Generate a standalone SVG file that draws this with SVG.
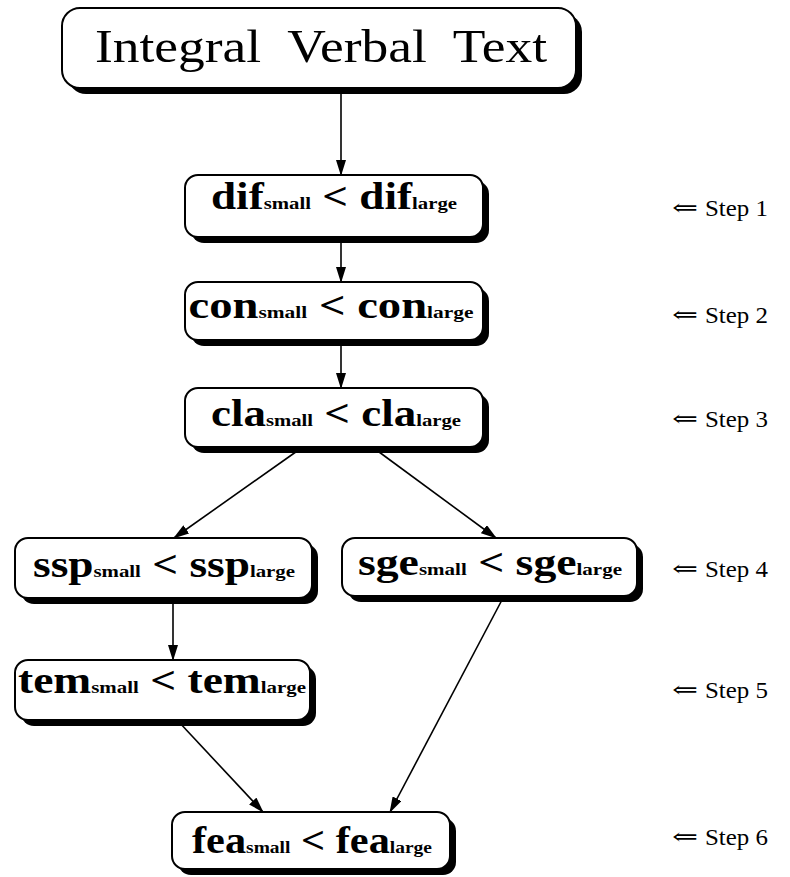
<svg xmlns="http://www.w3.org/2000/svg" width="790" height="877" viewBox="0 0 790 877">
<style>
.sh{fill:#000}
.bx{fill:#fff;stroke:#000;stroke-width:2}
.nt{font-family:"Liberation Serif","DejaVu Serif",serif;font-weight:bold;font-size:37px;fill:#000}
.sub{font-size:17px}
.st{font-family:"Liberation Serif","DejaVu Serif",serif;font-size:23px;fill:#000}
.ar{font-family:"DejaVu Serif","DejaVu Sans",serif;font-size:22px;fill:#000}
.ln{stroke:#000;stroke-width:1.6;fill:none;marker-end:url(#ah)}
</style>
<defs>
<marker id="ah" markerWidth="16" markerHeight="10" refX="15" refY="5" orient="auto" markerUnits="userSpaceOnUse">
<path d="M0,0 L16,5 L0,10 z" fill="#000"/>
</marker>
</defs>
<rect width="790" height="877" fill="#fff"/>
<g id="connectors">
<line class="ln" x1="341" y1="88" x2="341" y2="175"/>
<line class="ln" x1="341" y1="237" x2="341" y2="282"/>
<line class="ln" x1="341" y1="340" x2="341" y2="388"/>
<line class="ln" x1="300" y1="449" x2="174" y2="538"/>
<line class="ln" x1="375" y1="449" x2="496" y2="538"/>
<line class="ln" x1="173" y1="599" x2="173" y2="660"/>
<line class="ln" x1="178" y1="721" x2="263" y2="812"/>
<line class="ln" x1="503" y1="598" x2="390" y2="812"/>
</g>
<g id="top">
<rect class="sh" x="68" y="14" width="514" height="80" rx="18"/>
<rect class="bx" x="62" y="8" width="514" height="80" rx="18"/>
<text x="321" y="62" text-anchor="middle" textLength="452" lengthAdjust="spacingAndGlyphs" style="font-family:'Liberation Serif','DejaVu Serif',serif;font-size:47px" word-spacing="12">Integral Verbal Text</text>
</g>
<g id="dif">
<rect class="sh" x="191" y="181" width="298" height="62" rx="13"/>
<rect class="bx" x="185" y="175" width="298" height="62" rx="13"/>
<text class="nt" x="334" y="209" text-anchor="middle" textLength="246" lengthAdjust="spacingAndGlyphs">dif<tspan class="sub">small</tspan> &lt; dif<tspan class="sub">large</tspan></text>
</g>
<g id="con">
<rect class="sh" x="191" y="288" width="298" height="58" rx="13"/>
<rect class="bx" x="185" y="282" width="298" height="58" rx="13"/>
<text class="nt" x="331" y="318" text-anchor="middle" textLength="285" lengthAdjust="spacingAndGlyphs">con<tspan class="sub">small</tspan> &lt; con<tspan class="sub">large</tspan></text>
</g>
<g id="cla">
<rect class="sh" x="191" y="394" width="298" height="59" rx="13"/>
<rect class="bx" x="185" y="388" width="298" height="59" rx="13"/>
<text class="nt" x="336" y="426" text-anchor="middle" textLength="250" lengthAdjust="spacingAndGlyphs">cla<tspan class="sub">small</tspan> &lt; cla<tspan class="sub">large</tspan></text>
</g>
<g id="ssp">
<rect class="sh" x="21" y="544" width="297" height="60" rx="13"/>
<rect class="bx" x="15" y="538" width="297" height="60" rx="13"/>
<text class="nt" x="164" y="577" text-anchor="middle" textLength="262" lengthAdjust="spacingAndGlyphs">ssp<tspan class="sub">small</tspan> &lt; ssp<tspan class="sub">large</tspan></text>
</g>
<g id="sge">
<rect class="sh" x="348" y="544" width="295" height="58" rx="13"/>
<rect class="bx" x="342" y="538" width="295" height="58" rx="13"/>
<text class="nt" x="490" y="575" text-anchor="middle" textLength="264" lengthAdjust="spacingAndGlyphs">sge<tspan class="sub">small</tspan> &lt; sge<tspan class="sub">large</tspan></text>
</g>
<g id="tem">
<rect class="sh" x="21" y="666" width="295" height="60" rx="13"/>
<rect class="bx" x="15" y="660" width="295" height="60" rx="13"/>
<text class="nt" x="162" y="693" text-anchor="middle" textLength="288" lengthAdjust="spacingAndGlyphs">tem<tspan class="sub">small</tspan> &lt; tem<tspan class="sub">large</tspan></text>
</g>
<g id="fea">
<rect class="sh" x="178" y="818" width="278" height="57" rx="13"/>
<rect class="bx" x="172" y="812" width="278" height="57" rx="13"/>
<text class="nt" x="312" y="853" text-anchor="middle" textLength="240" lengthAdjust="spacingAndGlyphs">fea<tspan class="sub">small</tspan> &lt; fea<tspan class="sub">large</tspan></text>
</g>
<g id="steps">
<text class="ar" x="672" y="215" textLength="26" lengthAdjust="spacingAndGlyphs">⇐</text>
<text class="st" x="705" y="216" textLength="63" lengthAdjust="spacingAndGlyphs">Step 1</text>
<text class="ar" x="672" y="322" textLength="26" lengthAdjust="spacingAndGlyphs">⇐</text>
<text class="st" x="705" y="323" textLength="63" lengthAdjust="spacingAndGlyphs">Step 2</text>
<text class="ar" x="672" y="426" textLength="26" lengthAdjust="spacingAndGlyphs">⇐</text>
<text class="st" x="705" y="427" textLength="63" lengthAdjust="spacingAndGlyphs">Step 3</text>
<text class="ar" x="672" y="576" textLength="26" lengthAdjust="spacingAndGlyphs">⇐</text>
<text class="st" x="705" y="577" textLength="63" lengthAdjust="spacingAndGlyphs">Step 4</text>
<text class="ar" x="672" y="697" textLength="26" lengthAdjust="spacingAndGlyphs">⇐</text>
<text class="st" x="705" y="698" textLength="63" lengthAdjust="spacingAndGlyphs">Step 5</text>
<text class="ar" x="672" y="844" textLength="26" lengthAdjust="spacingAndGlyphs">⇐</text>
<text class="st" x="705" y="845" textLength="63" lengthAdjust="spacingAndGlyphs">Step 6</text>
</g>
</svg>
